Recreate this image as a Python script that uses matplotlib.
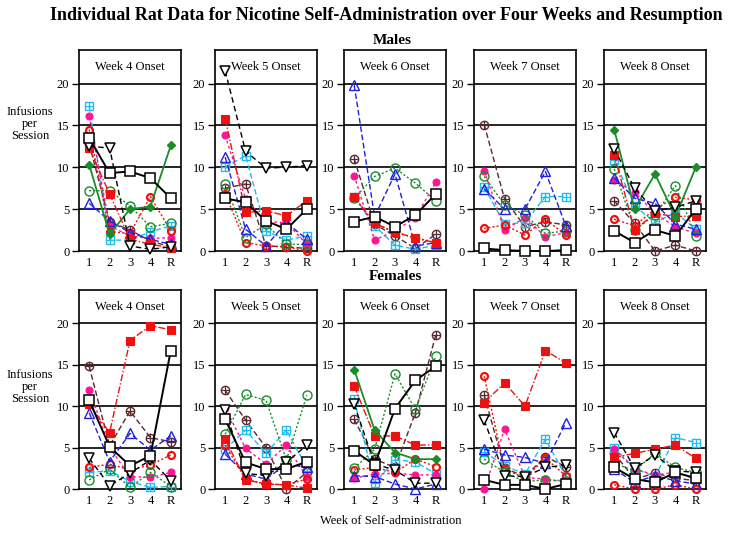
import numpy as np
import matplotlib
matplotlib.use("Agg")
import matplotlib.pyplot as plt

plt.rcParams['font.family'] = ['Liberation Serif', 'DejaVu Serif']

nan = np.nan
weeks = ["1", "2", "3", "4", "R"]
onsets = ["Week 4 Onset", "Week 5 Onset", "Week 6 Onset", "Week 7 Onset", "Week 8 Onset"]

# ---- Males ----
male_w4 = {
    "cyan":  [17.3, 1.3, 1.3, 2.3, 3.0],
    "mag":   [16.1, 3.0, 1.8, 1.5, 1.6],
    "rcirc": [14.5, 2.3, 2.1, 6.5, 2.4],
    "brown": [12.8, 3.5, 2.5, 1.2, 0.5],
    "tri":   [12.5, 12.3, 0.6, 0.2, 0.5],
    "rsq":   [12.3, 6.8, 1.4, 0.8, 0.4],
    "gdia":  [10.3, 2.0, 5.0, 5.3, 12.6],
    "gcirc": [7.2, 7.2, 5.4, 2.9, 3.3],
    "btri":  [5.7, 3.6, 2.2, 1.4, 0.8],
    "sq":    [13.5, 9.3, 9.5, 8.7, 6.3],
}
male_w5 = {
    "tri":   [21.5, 11.9, 9.9, 10.0, 10.2],
    "rsq":   [15.8, 4.6, 4.8, 4.2, 6.0],
    "mag":   [13.8, 6.2, 3.5, 3.4, 0.8],
    "btri":  [11.2, 2.6, 0.6, 3.4, 1.4],
    "cyan":  [10.0, 11.4, 2.4, 1.3, 1.8],
    "brown": [7.5, 8.0, 0.6, 0.5, 0.3],
    "gcirc": [8.0, 1.6, 3.2, 0.8, 0.8],
    "rcirc": [6.8, 1.0, 0.6, 0.5, 0.0],
    "sq":    [6.3, 5.8, 3.6, 2.6, 5.0],
}
male_w6 = {
    "btri":  [19.8, 4.1, 9.2, 0.6, 1.0],
    "brown": [11.0, 3.2, 1.8, 0.3, 2.0],
    "mag":   [9.0, 1.3, 2.4, 4.0, 8.2],
    "gcirc": [6.3, 8.9, 9.9, 8.1, 6.0],
    "cyan":  [6.5, 3.0, 0.7, 0.2, 0.7],
    "rsq":   [6.5, 3.3, 2.3, 1.5, 1.0],
    "rcirc": [6.4, 3.3, 2.2, 1.6, 1.0],
    "sq":    [3.5, 4.1, 2.9, 4.3, 6.8],
}
male_w7 = {
    "brown": [15.1, 6.2, 2.9, 3.5, 3.1],
    "mag":   [9.6, 2.5, 4.0, 1.7, 2.2],
    "gcirc": [8.9, 5.5, 4.3, 2.1, 2.4],
    "btri":  [7.4, 5.0, 5.0, 9.5, 3.0],
    "cyan":  [7.6, 3.2, 3.4, 6.5, 6.5],
    "rcirc": [2.7, 3.1, 1.9, 3.8, 1.9],
    "sq":    [0.3, 0.1, 0.0, 0.0, 0.1],
}
male_w8 = {
    "gdia":  [14.5, 5.0, 9.2, 4.1, 10.0],
    "tri":   [12.2, 7.5, 4.8, 5.2, 6.0],
    "rsq":   [11.5, 2.5, 4.5, 4.1, 4.2],
    "cyan":  [10.9, 5.4, 3.4, 4.6, 2.6],
    "gcirc": [9.8, 2.5, 4.3, 7.8, 1.8],
    "btri":  [8.7, 6.3, 5.7, 3.2, 2.6],
    "mag":   [8.5, 7.0, 4.5, 2.9, 2.1],
    "brown": [6.0, 3.3, 0.0, 0.7, 0.0],
    "rcirc": [3.8, 3.0, 5.0, 6.4, 6.1],
    "sq":    [2.4, 1.0, 2.5, 1.8, 5.0],
}

# ---- Females ----
female_w4 = {
    "rsq":   [10.2, 6.8, 17.9, 19.7, 19.2],
    "brown": [14.8, 5.2, 9.4, 6.2, 5.7],
    "mag":   [12.0, 5.0, 1.5, 1.4, 2.0],
    "btri":  [9.2, 3.3, 6.7, 4.7, 6.4],
    "tri":   [3.7, 0.4, 1.9, 3.5, 1.0],
    "rcirc": [2.6, 3.0, 2.3, 2.9, 4.1],
    "cyan":  [2.0, 2.2, 0.9, 0.2, 0.3],
    "gcirc": [1.1, 2.4, 0.2, 2.0, 0.3],
    "sq":    [10.7, 5.1, 2.8, 4.0, 16.7],
}
female_w5 = {
    "brown": [11.9, 8.3, 5.0, 0.0, 2.0],
    "mag":   [9.8, 4.9, 3.0, 5.3, 1.4],
    "tri":   [9.5, 1.9, 1.6, 3.2, 5.3],
    "gcirc": [6.6, 11.4, 10.7, 3.5, 11.3],
    "cyan":  [4.8, 7.1, 4.3, 7.1, 2.6],
    "rsq":   [6.0, 1.1, 0.6, 0.5, 0.1],
    "rcirc": [5.3, 1.2, 0.6, 0.5, 1.2],
    "btri":  [4.2, 1.8, 1.2, 3.0, 2.6],
    "sq":    [8.4, 3.2, 2.4, 2.4, 3.3],
}
female_w6 = {
    "brown": [8.4, 3.6, 2.6, 9.2, 18.6],
    "gcirc": [2.5, 4.8, 13.9, 9.6, 16.0],
    "gdia":  [14.4, 7.1, 4.4, 3.6, 3.6],
    "rsq":   [12.4, 6.4, 6.4, 5.3, 5.3],
    "cyan":  [10.8, 0.7, 3.5, 3.3, 1.8],
    "tri":   [10.2, 3.0, 2.3, 0.7, 0.7],
    "rcirc": [2.3, 2.6, 2.0, 3.6, 2.7],
    "mag":   [1.3, 1.8, 1.9, 1.7, 1.7],
    "btri":  [1.6, 1.5, 0.6, 0.0, 0.6],
    "sq":    [4.6, 2.9, 9.7, 13.1, 14.8],
}
female_w7 = {
    "rsq":   [10.4, 12.8, 10.0, 16.7, 15.2],
    "rcirc": [13.6, 2.4, 1.3, 3.7, 1.6],
    "brown": [11.3, 2.5, 1.5, 3.9, 2.7],
    "tri":   [8.3, 1.6, 1.5, 2.6, 2.9],
    "mag":   [0.0, 7.2, 1.4, 1.2, 0.8],
    "btri":  [4.8, 4.1, 3.8, 3.1, 8.0],
    "cyan":  [4.5, 2.8, 1.8, 6.0, 1.5],
    "gcirc": [3.6, 2.0, 0.9, 1.1, 1.0],
    "sq":    [1.1, 0.5, 0.5, 0.0, 0.6],
}
female_w8 = {
    "tri":   [6.8, 2.5, 4.1, 2.2, 2.0],
    "cyan":  [5.0, 2.5, 1.5, 6.2, 5.6],
    "brown": [4.3, 1.2, 1.9, 1.3, 1.0],
    "rsq":   [3.8, 4.3, 4.8, 5.3, 3.7],
    "gcirc": [3.1, 2.2, 4.3, 2.6, 2.0],
    "mag":   [4.8, 2.4, 1.7, 2.0, 1.2],
    "btri":  [2.4, 0.8, 1.6, 1.0, 0.6],
    "rcirc": [0.5, 0.0, 0.0, 0.5, 0.0],
    "sq":    [2.6, 1.2, 0.8, 2.0, 1.3],
}

males = [male_w4, male_w5, male_w6, male_w7, male_w8]
females = [female_w4, female_w5, female_w6, female_w7, female_w8]

GREEN = "#1a8c2a"
RED = "#ee1111"
MAG = "#ff1493"
BLUE = "#2020dd"
CYAN = "#22bbee"
BROWN = "#5a2a30"

styles = {
    "sq":    dict(color="black", ls="-", lw=1.4, marker="s", mfc="white", ms=6.5, mew=1.1),
    "tri":   dict(color="black", ls=(0, (4, 2.5)), lw=1.0, marker="v", mfc="white", ms=6.5, mew=1.1),
    "gdia":  dict(color=GREEN, ls="-", lw=1.3, marker="D", mfc=GREEN, ms=4.5, mew=1.0),
    "gcirc": dict(color=GREEN, ls=(0, (1.5, 1.5)), lw=1.0, marker="o", mfc="none", ms=6.5, mew=1.0),
    "rsq":   dict(color=RED, ls=(0, (5, 1.5, 1, 1.5)), lw=1.0, marker="s", mfc=RED, ms=5.5, mew=0.8),
    "rcirc": dict(color=RED, ls=(0, (1.5, 1.5)), lw=1.0, marker="o", mfc="none", ms=5.0, mew=1.6),
    "mag":   dict(color=MAG, ls=(0, (2, 2)), lw=1.0, marker="o", mfc=MAG, ms=5.0, mew=0.8),
    "btri":  dict(color=BLUE, ls=(0, (4, 2)), lw=1.0, marker="^", mfc="none", ms=6.5, mew=1.0),
    "cyan":  dict(color=CYAN, ls=(0, (4, 2)), lw=1.0, marker="s", mfc="none", ms=6.0, mew=1.0),
    "brown": dict(color=BROWN, ls=(0, (4, 2)), lw=1.0, marker="o", mfc="none", ms=6.0, mew=1.0),
}
cross_overlay = {"cyan": CYAN, "brown": BROWN}
order = ["brown", "cyan", "mag", "rcirc", "gcirc", "btri", "rsq", "gdia", "tri", "sq"]

W, H = 729, 533
fig = plt.figure(figsize=(W / 100, H / 100), dpi=100)

lefts = [79, 215, 344, 474, 604]
pw = 102
rows = [(251, 50), (489, 290)]  # (y of zero, top) in pixels from top

xpos = np.arange(1, 6)
for r, (datasets, (y0, ytop)) in enumerate(zip([males, females], rows)):
    for c, data in enumerate(datasets):
        ax = fig.add_axes([lefts[c] / W, (H - y0) / H, pw / W, (y0 - ytop) / H])
        ax.set_xlim(0.5, 5.5)
        ax.set_ylim(0, 24)
        for g in [5, 10, 15, 20]:
            ax.axhline(g, color="black", lw=1.2, zorder=1)
        for key in order:
            if key not in data:
                continue
            vals = np.array(data[key], dtype=float)
            ax.plot(xpos, vals, clip_on=False, zorder=3, **styles[key])
            if key in cross_overlay:
                ax.plot(xpos, vals, ls="none", marker="+", ms=6.0, mew=0.9,
                        color=cross_overlay[key], clip_on=False, zorder=3)
        ax.text(3, 22, onsets[c], ha="center", va="center", fontsize=9)
        ax.set_xticks(xpos)
        ax.set_xticklabels(weeks, fontsize=9)
        ax.set_yticks([0, 5, 10, 15, 20])
        ax.set_yticklabels(["0", "5", "10", "15", "20"], fontsize=9)
        ax.tick_params(axis="y", direction="out", length=5, width=1.0, pad=2)
        ax.tick_params(axis="x", direction="out", length=0, width=1.0, pad=4)
        for s in ax.spines.values():
            s.set_linewidth(1.2)

fig.text(0.5 + 0.03, 1 - 15 / H,
         "Individual Rat Data for Nicotine Self-Administration over Four Weeks and Resumption",
         ha="center", va="center", fontsize=13, fontweight="bold")
fig.text(392 / W, 1 - 40 / H, "Males", ha="center", va="center", fontsize=11, fontweight="bold")
fig.text(395 / W, 1 - 277 / H, "Females", ha="center", va="center", fontsize=11, fontweight="bold")
fig.text(391 / W, 1 - 521 / H, "Week of Self-administration", ha="center", va="center", fontsize=9)
for yc in [124, 387]:
    fig.text(30 / W, 1 - yc / H, "Infusions\nper\nSession", ha="center", va="center",
             fontsize=9, linespacing=1.0)

fig.savefig("out.png", dpi=100)
